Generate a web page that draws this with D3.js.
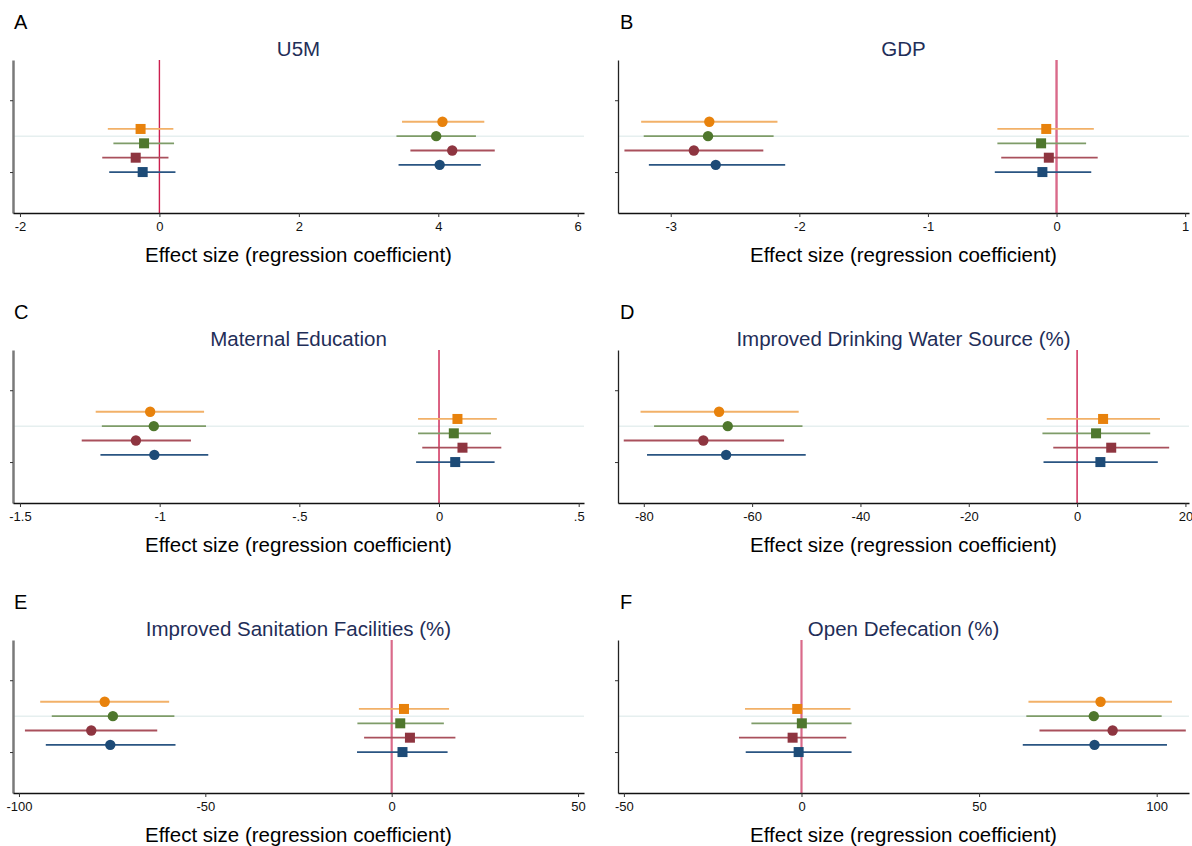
<!DOCTYPE html>
<html>
<head>
<meta charset="utf-8">
<script src="https://cdn.jsdelivr.net/npm/d3@7"></script>
<style>
  html, body { margin: 0; padding: 0; background: #ffffff; }
  svg { display: block; font-family: "Liberation Sans", Arial, Helvetica, sans-serif; }
</style>
</head>
<body>
<svg id="chart" width="1192" height="846"></svg>
<script>
// ---------- DATA ----------
const panelLetters = ["A", "B", "C", "D", "E", "F"];
const panelTitles = [
  "U5M",
  "GDP",
  "Maternal Education",
  "Improved Drinking Water Source (%)",
  "Improved Sanitation Facilities (%)",
  "Open Defecation (%)"
];
const xDomains = [
  [-2.10, 6.09],
  [-3.41, 1.03],
  [-1.525, 0.519],
  [-84.76, 20.66],
  [-101.6, 51.6],
  [-51.66, 109.1]
];
const xTickValues = [
  [-2, 0, 2, 4, 6],
  [-3, -2, -1, 0, 1],
  [-1.5, -1, -0.5, 0, 0.5],
  [-80, -60, -40, -20, 0, 20],
  [-100, -50, 0, 50],
  [-50, 0, 50, 100]
];
const xTickLabels = [
  ["-2", "0", "2", "4", "6"],
  ["-3", "-2", "-1", "0", "1"],
  ["-1.5", "-1", "-.5", "0", ".5"],
  ["-80", "-60", "-40", "-20", "0", "20"],
  ["-100", "-50", "0", "50"],
  ["-50", "0", "50", "100"]
];
const xAxisTitle = "Effect size (regression coefficient)";

const seriesNames = ["Model 1", "Model 2", "Model 3", "Model 4"];

// circle-marker estimates (per panel, per series)
const circleEst = [
  [4.06, 3.97, 4.20, 4.02],
  [-2.70, -2.71, -2.82, -2.65],
  [-1.034, -1.021, -1.085, -1.019],
  [-66.1, -64.5, -69.0, -64.8],
  [-77.0, -74.8, -80.6, -75.5],
  [84.2, 82.3, 87.6, 82.5]
];
const circleLo = [
  [3.48, 3.40, 3.60, 3.43],
  [-3.23, -3.21, -3.36, -3.17],
  [-1.229, -1.207, -1.279, -1.212],
  [-80.6, -78.1, -83.7, -79.4],
  [-94.3, -91.2, -98.4, -92.8],
  [63.9, 63.3, 67.0, 62.3]
];
const circleHi = [
  [4.66, 4.54, 4.81, 4.61],
  [-2.17, -2.20, -2.28, -2.11],
  [-0.841, -0.834, -0.888, -0.826],
  [-51.4, -50.7, -54.1, -50.1],
  [-59.7, -58.3, -62.9, -58.0],
  [104.3, 101.4, 108.2, 102.9]
];
// square-marker estimates
const squareEst = [
  [-0.27, -0.22, -0.34, -0.24],
  [-0.08, -0.12, -0.06, -0.11],
  [0.066, 0.053, 0.084, 0.058],
  [4.8, 3.5, 6.3, 4.3],
  [3.3, 2.3, 4.9, 2.9],
  [-1.2, 0.1, -2.5, -0.8]
];
const squareLo = [
  [-0.74, -0.66, -0.82, -0.72],
  [-0.46, -0.46, -0.43, -0.48],
  [-0.075, -0.075, -0.060, -0.082],
  [-5.6, -6.4, -4.4, -6.2],
  [-8.8, -9.2, -7.4, -9.3],
  [-15.9, -14.1, -17.6, -15.7]
];
const squareHi = [
  [0.20, 0.21, 0.13, 0.23],
  [0.29, 0.23, 0.32, 0.27],
  [0.207, 0.186, 0.223, 0.199],
  [15.3, 13.5, 17.0, 14.9],
  [15.4, 14.0, 17.1, 15.0],
  [13.8, 14.1, 12.6, 14.1]
];
// vertical row positions (y units) for each series
const circleRows = [1.7, 1.5, 1.3, 1.1];
const squareRows = [1.6, 1.4, 1.2, 1.0];
const yDomain = [0.43, 2.56];
const yTickValues = [1, 2];
const refRowY = 1.5;

// ---------- STYLE ----------
const markerColors = ["#E8820C", "#4F772D", "#8E3540", "#1D4B77"];
const ciColors = ["#F2B168", "#7E9C68", "#A9505C", "#2A5582"];
const titleColor = "#1F2E58";
const zeroLineWidths = [1.4, 2.4, 1.4, 1.4, 2.2, 2.2];
const zeroLineColors = ["#CC1F4E", "#DA6A8A", "#CC1F4E", "#CC1F4E", "#DA6A8A", "#DA6A8A"];

// ---------- LAYOUT ----------
const colX = [[13, 584], [618, 1189]];
const rowOffset = [0, 290, 580];
const plotTop = 60, plotBottom = 213;

const svg = d3.select("#chart");

panelTitles.forEach((title, p) => {
  const col = p % 2, row = Math.floor(p / 2);
  const [x0, x1] = colX[col];
  const oy = rowOffset[row];
  const g = svg.append("g").attr("transform", `translate(0,${oy})`);

  const x = d3.scaleLinear().domain(xDomains[p]).range([x0, x1]);
  const y = d3.scaleLinear().domain(yDomain).range([plotBottom, plotTop]);

  // panel letter
  g.append("text")
    .attr("x", col === 0 ? 14 : 620)
    .attr("y", 29)
    .attr("font-size", 20)
    .attr("fill", "#000")
    .text(panelLetters[p]);

  // title
  g.append("text")
    .attr("x", (x0 + x1) / 2)
    .attr("y", 56)
    .attr("text-anchor", "middle")
    .attr("font-size", 20.5)
    .attr("fill", titleColor)
    .text(title);

  // faint horizontal reference line
  g.append("line")
    .attr("x1", x0).attr("x2", x1)
    .attr("y1", y(refRowY)).attr("y2", y(refRowY))
    .attr("stroke", "#E6EFEF").attr("stroke-width", 1.5);

  // zero reference line
  g.append("line")
    .attr("x1", x(0)).attr("x2", x(0))
    .attr("y1", plotTop).attr("y2", plotBottom)
    .attr("stroke", zeroLineColors[p]).attr("stroke-width", zeroLineWidths[p]);

  // CI lines + markers
  seriesNames.forEach((s, i) => {
    g.append("line")
      .attr("x1", x(circleLo[p][i])).attr("x2", x(circleHi[p][i]))
      .attr("y1", y(circleRows[i])).attr("y2", y(circleRows[i]))
      .attr("stroke", ciColors[i]).attr("stroke-width", 1.8);
    g.append("line")
      .attr("x1", x(squareLo[p][i])).attr("x2", x(squareHi[p][i]))
      .attr("y1", y(squareRows[i])).attr("y2", y(squareRows[i]))
      .attr("stroke", ciColors[i]).attr("stroke-width", 1.8);
  });
  seriesNames.forEach((s, i) => {
    g.append("circle")
      .attr("cx", x(circleEst[p][i])).attr("cy", y(circleRows[i]))
      .attr("r", 5.2)
      .attr("fill", markerColors[i]);
    g.append("rect")
      .attr("x", x(squareEst[p][i]) - 5).attr("y", y(squareRows[i]) - 5)
      .attr("width", 10).attr("height", 10)
      .attr("fill", markerColors[i]);
  });

  // y axis
  const yAxis = d3.axisLeft(y).tickValues(yTickValues).tickFormat("").tickSize(3).tickSizeOuter(0);
  const yg = g.append("g").attr("transform", `translate(${x0},0)`).call(yAxis);
  yg.select(".domain")
    .attr("stroke", col === 0 ? "#7A7A7A" : "#222")
    .attr("stroke-width", col === 0 ? 2.5 : 1.3);
  yg.selectAll(".tick line").attr("stroke", "#333").attr("stroke-width", 1);

  // x axis
  const xAxis = d3.axisBottom(x)
    .tickValues(xTickValues[p])
    .tickFormat((d, i) => xTickLabels[p][i])
    .tickSize(4).tickSizeOuter(0);
  const xg = g.append("g").attr("transform", `translate(0,${plotBottom})`).call(xAxis);
  xg.select(".domain").attr("stroke", "#111").attr("stroke-width", 1.5);
  xg.selectAll(".tick line").attr("stroke", "#333");
  xg.selectAll(".tick text")
    .attr("font-size", 13)
    .attr("font-family", "'Liberation Sans', Arial, sans-serif")
    .attr("fill", "#111")
    .attr("dy", "0.71em")
    .attr("y", 9);

  // x axis title
  g.append("text")
    .attr("x", (x0 + x1) / 2)
    .attr("y", 262)
    .attr("text-anchor", "middle")
    .attr("font-size", 20.5)
    .attr("fill", "#000")
    .text(xAxisTitle);
});
</script>
</body>
</html>
